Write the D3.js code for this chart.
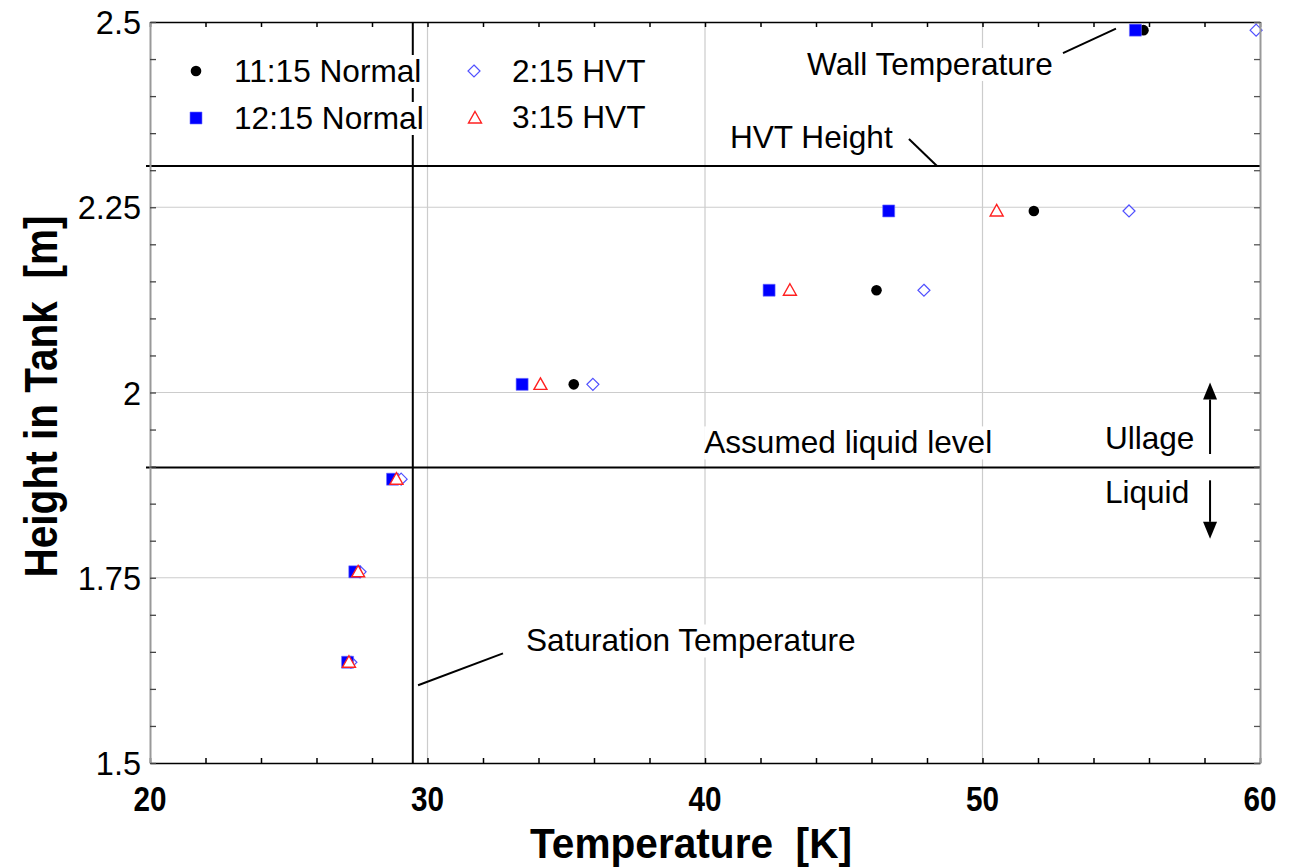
<!DOCTYPE html>
<html>
<head>
<meta charset="utf-8">
<script src="https://cdn.jsdelivr.net/npm/d3@7"></script>
<style>
  html, body { margin: 0; padding: 0; background: #fff; }
  svg { display: block; }
</style>
</head>
<body>
<svg id="chart" width="1307" height="868"></svg>
<script>
// Heights of the thermocouple rake stations in the tank [m]
const heights = [2.489, 2.245, 2.138, 2.011, 1.883, 1.758, 1.636];

// Measured temperatures [K] at each station, one list per time of day
const normal1115 = [55.8, 51.85, 46.18, 35.27, 28.74, 27.38, 27.12];
const normal1215 = [55.51, 46.62, 42.31, 33.41, 28.74, 27.38, 27.12];
const hvt215 = [59.86, 55.28, 47.89, 35.96, 29.05, 27.57, 27.24];
const hvt315 = [null, 50.51, 43.06, 34.07, 28.88, 27.5, 27.17];

const seriesNames = ["11:15 Normal", "12:15 Normal", "2:15 HVT", "3:15 HVT"];

// Reference levels
const saturationTemp = 29.47;   // K
const hvtHeight = 2.3057;       // m
const liquidLevel = 1.8988;     // m

// Axis ticks
const xTickLabels = [20, 30, 40, 50, 60];
const yTickLabels = [1.5, 1.75, 2, 2.25, 2.5];

const svg = d3.select("#chart");
const plotLeft = 150, plotRight = 1260, plotTop = 22, plotBottom = 763;

const x = d3.scaleLinear().domain([20, 60]).range([plotLeft, plotRight]);
const y = d3.scaleLinear().domain([1.5, 2.5]).range([plotBottom, plotTop]);

const FONT = "'Liberation Sans', Arial, Helvetica, sans-serif";
const NARROW = "'Liberation Sans Narrow', 'Arial Narrow', 'Liberation Sans', Arial, sans-serif";
const LABEL_SIZE = 31.6;

// ---- grid ----
const grid = svg.append("g").attr("stroke", "#cccccc").attr("stroke-width", 1.2);
[30, 40, 50].forEach(v => grid.append("line")
  .attr("x1", x(v)).attr("x2", x(v)).attr("y1", plotTop).attr("y2", plotBottom));
[1.75, 2, 2.25].forEach(v => grid.append("line")
  .attr("x1", plotLeft).attr("x2", plotRight).attr("y1", y(v)).attr("y2", y(v)));

// ---- reference lines ----
const ref = svg.append("g").attr("stroke", "#000").attr("stroke-width", 2);
ref.append("line").attr("x1", x(saturationTemp)).attr("x2", x(saturationTemp))
  .attr("y1", plotTop).attr("y2", plotBottom);
ref.append("line").attr("x1", plotLeft - 4).attr("x2", plotRight)
  .attr("y1", y(hvtHeight)).attr("y2", y(hvtHeight));
ref.append("line").attr("x1", plotLeft - 4).attr("x2", plotRight)
  .attr("y1", y(liquidLevel)).attr("y2", y(liquidLevel));

// ---- labelled text with opaque background ----
function boxedText(g, tx, ty, str, size, anchor) {
  const t = g.append("text")
    .attr("x", tx).attr("y", ty)
    .attr("font-family", FONT).attr("font-size", size)
    .attr("text-anchor", anchor || "start")
    .attr("fill", "#000").text(str);
  const b = t.node().getBBox();
  g.insert("rect", () => t.node())
    .attr("x", b.x).attr("y", b.y + 2).attr("width", b.width).attr("height", b.height - 3)
    .attr("fill", "#fff");
  return t;
}

const ann = svg.append("g");
boxedText(ann, x(43.68), y(2.4285), "Wall Temperature", LABEL_SIZE);
boxedText(ann, x(40.9), y(2.3293), "HVT Height", LABEL_SIZE);
boxedText(ann, x(39.97), y(1.9178), "Assumed liquid level", LABEL_SIZE);
boxedText(ann, x(33.55), y(1.6505), "Saturation Temperature", LABEL_SIZE);
boxedText(ann, x(54.41), y(1.9238), "Ullage", LABEL_SIZE);
boxedText(ann, x(54.41), y(1.8509), "Liquid", LABEL_SIZE);

// leader lines
const leaders = [
  [[52.9, 2.458], [54.81, 2.491]],
  [[47.35, 2.342], [48.36, hvtHeight]],
  [[29.66, 1.605], [32.72, 1.648]]
];
ann.append("g").selectAll("line").data(leaders).join("line")
  .attr("x1", d => x(d[0][0])).attr("y1", d => y(d[0][1]))
  .attr("x2", d => x(d[1][0])).attr("y2", d => y(d[1][1]))
  .attr("stroke", "#000").attr("stroke-width", 2);

// Ullage / Liquid arrows
const arrowT = 58.2;
function arrow(fromH, toH) {
  const x0 = x(arrowT), y0 = y(fromH), y1 = y(toH);
  const dir = Math.sign(y1 - y0);
  const headLen = 17, headHalf = 7;
  ann.append("line").attr("x1", x0).attr("x2", x0).attr("y1", y0).attr("y2", y1 - dir * headLen)
    .attr("stroke", "#000").attr("stroke-width", 2);
  ann.append("path")
    .attr("d", `M${x0},${y1} L${x0 - headHalf},${y1 - dir * headLen} L${x0 + headHalf},${y1 - dir * headLen} Z`)
    .attr("fill", "#000");
}
arrow(1.917, 2.0135);
arrow(1.8815, 1.8025);

// ---- legend ----
const legend = svg.append("g");
const legendItems = [
  { name: seriesNames[0], mx: 196, my: 71, tx: 234, ty: 82, shape: "circle" },
  { name: seriesNames[1], mx: 196, my: 118, tx: 234, ty: 129, shape: "square" },
  { name: seriesNames[2], mx: 474, my: 71, tx: 512, ty: 82, shape: "diamond" },
  { name: seriesNames[3], mx: 475, my: 118, tx: 512, ty: 128, shape: "triangle" }
];

// ---- marker drawing ----
const symbolPath = {
  circle: () => d3.symbol(d3.symbolCircle, Math.PI * 5.3 * 5.3)(),
  square: () => "M-6,-6h12v12h-12Z",
  diamond: () => "M0,-6L6,0L0,6L-6,0Z",
  triangle: () => "M0,-6.5L6.5,5L-6.5,5Z"
};
const shapeStyle = {
  circle: { fill: "#000", stroke: "none", sw: 0 },
  square: { fill: "#0000ff", stroke: "#6f6fff", sw: 0.6 },
  diamond: { fill: "#fff", stroke: "#5050ff", sw: 1.2 },
  triangle: { fill: "#fff", stroke: "#ff2020", sw: 1.4 }
};
function drawMarkers(g, pts, shape) {
  const st = shapeStyle[shape];
  g.selectAll(null).data(pts).join("path")
    .attr("d", symbolPath[shape]())
    .attr("transform", d => `translate(${d.px},${d.py})`)
    .attr("fill", st.fill).attr("stroke", st.stroke).attr("stroke-width", st.sw);
}

legendItems.forEach(it => {
  boxedText(legend, it.tx, it.ty, it.name, LABEL_SIZE);
  drawMarkers(legend, [{ px: it.mx, py: it.my }], it.shape);
});

// ---- data points ----
function toPoints(temps) {
  return temps.map((t, i) => ({ t, h: heights[i] }))
    .filter(d => d.t !== null)
    .map(d => ({ px: x(d.t), py: y(d.h) }));
}
const pts = svg.append("g");
drawMarkers(pts.append("g"), toPoints(normal1115), "circle");
drawMarkers(pts.append("g"), toPoints(hvt215), "diamond");
drawMarkers(pts.append("g"), toPoints(normal1215), "square");
drawMarkers(pts.append("g"), toPoints(hvt315), "triangle");

// ---- frame and ticks ----
const frame = svg.append("g");
const minorX = d3.range(20, 60.01, 2);
const minorY = d3.range(1.5, 2.501, 0.05);

const axB = d3.axisBottom(x).tickValues(minorX).tickSizeInner(-5).tickSizeOuter(0).tickFormat("");
const axT = d3.axisTop(x).tickValues(minorX).tickSizeInner(-5).tickSizeOuter(0).tickFormat("");
const axL = d3.axisLeft(y).tickValues(minorY).tickSizeInner(-6).tickSizeOuter(0).tickFormat("");
const axR = d3.axisRight(y).tickValues(minorY).tickSizeInner(-6).tickSizeOuter(0).tickFormat("");

frame.append("g").attr("transform", `translate(0,${plotBottom})`).call(axB)
  .call(g => g.selectAll("line,path").attr("stroke", "#000").attr("stroke-width", 1.5));
frame.append("g").attr("transform", `translate(0,${plotTop})`).call(axT)
  .call(g => g.selectAll("line,path").attr("stroke", "#000").attr("stroke-width", 1.5));
frame.append("g").attr("transform", `translate(${plotLeft},0)`).call(axL)
  .call(g => g.selectAll("line").attr("stroke", "#444").attr("stroke-width", 1.3))
  .call(g => g.select("path").attr("stroke", "#999").attr("stroke-width", 2));
frame.append("g").attr("transform", `translate(${plotRight},0)`).call(axR)
  .call(g => g.selectAll("line").attr("stroke", "#555").attr("stroke-width", 1.3))
  .call(g => g.select("path").attr("stroke", "#999").attr("stroke-width", 2));

// tick labels
svg.append("g").selectAll("text").data(xTickLabels).join("text")
  .attr("x", d => x(d)).attr("y", 811)
  .attr("text-anchor", "middle")
  .attr("font-family", NARROW).attr("font-weight", "bold").attr("font-size", 35)
  .attr("textLength", 33).attr("lengthAdjust", "spacingAndGlyphs")
  .text(d => d);

svg.append("g").selectAll("text").data(yTickLabels).join("text")
  .attr("x", 141).attr("y", d => y(d) + 12)
  .attr("text-anchor", "end")
  .attr("font-family", FONT).attr("font-size", 32.5)
  .text(d => d);

// axis titles
svg.append("text")
  .attr("x", (x(20) + x(60)) / 2 - 14).attr("y", 858)
  .attr("text-anchor", "middle")
  .attr("font-family", NARROW).attr("font-weight", "bold").attr("font-size", 43)
  .attr("textLength", 322).attr("lengthAdjust", "spacingAndGlyphs")
  .attr("xml:space", "preserve")
  .text("Temperature  [K]");

svg.append("text")
  .attr("transform", `translate(57,${(plotTop + plotBottom) / 2 + 4}) rotate(-90)`)
  .attr("text-anchor", "middle")
  .attr("font-family", NARROW).attr("font-weight", "bold").attr("font-size", 47)
  .attr("textLength", 362).attr("lengthAdjust", "spacingAndGlyphs")
  .attr("xml:space", "preserve")
  .text("Height in Tank  [m]");
</script>
</body>
</html>
